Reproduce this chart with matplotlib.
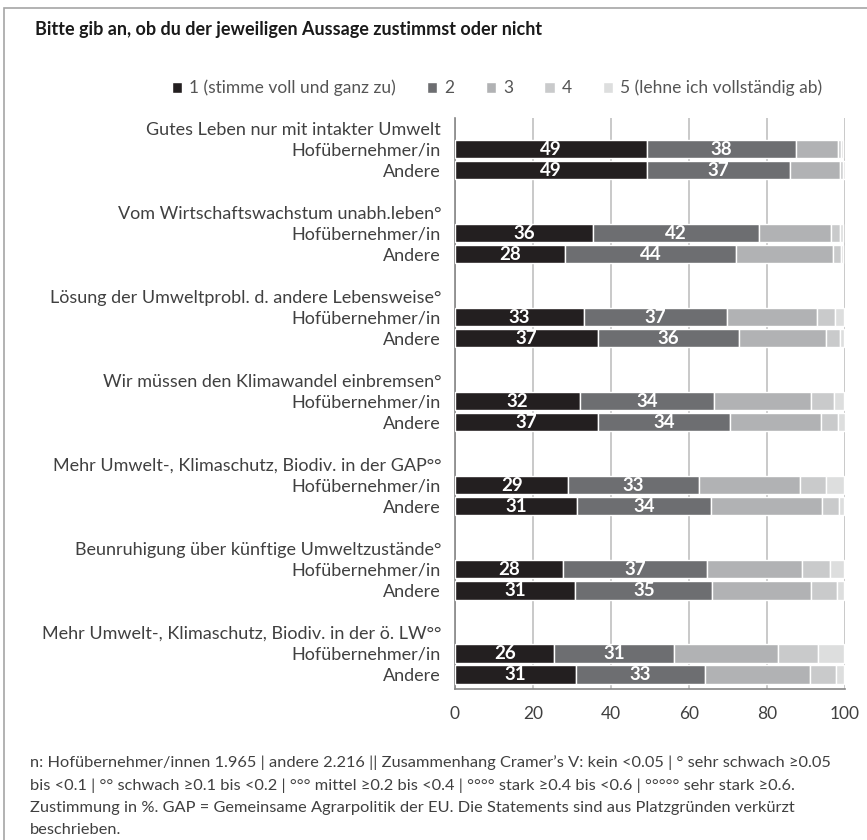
import matplotlib.pyplot as plt
from matplotlib.patches import Rectangle
import numpy as np

# statements (group titles) and the two respondent groups
statements = [
    "Gutes Leben nur mit intakter Umwelt",
    "Vom Wirtschaftswachstum unabh.leben°",
    "Lösung der Umweltprobl. d. andere Lebensweise°",
    "Wir müssen den Klimawandel einbremsen°",
    "Mehr Umwelt-, Klimaschutz, Biodiv. in der GAP°°",
    "Beunruhigung über künftige Umweltzustände°",
    "Mehr Umwelt-, Klimaschutz, Biodiv. in der ö. LW°°",
]
groups = ["Hofübernehmer/in", "Andere"]

legend_names = ["1 (stimme voll und ganz zu)", "2", "3", "4",
                "5 (lehne ich vollständig ab)"]
colors = ["#231f20", "#6d6e71", "#b1b2b4", "#c9cacb", "#dddede"]

# share in % per answer level, rows: statement x (Hof, Andere)
level1 = [49.2, 49.2, 35.5, 28.3, 33.0, 36.6, 32.1, 36.6, 29.1, 31.2, 27.6, 30.8, 25.5, 30.9]
level2 = [38.3, 36.6, 42.4, 43.8, 36.7, 36.1, 34.4, 34.0, 33.4, 34.4, 37.0, 35.2, 30.6, 33.3]
level3 = [10.6, 12.8, 18.4, 24.7, 23.1, 22.3, 24.7, 23.2, 26.0, 28.4, 24.4, 25.3, 26.7, 26.7]
level4 = [0.9, 0.9, 2.5, 2.2, 4.7, 3.6, 6.0, 4.4, 6.6, 4.5, 7.2, 6.7, 10.4, 6.7]
level5 = [0.6, 0.4, 0.7, 0.6, 2.3, 1.1, 2.6, 1.7, 4.7, 1.3, 3.6, 1.7, 6.6, 2.2]

title = "Bitte gib an, ob du der jeweiligen Aussage zustimmst oder nicht"
footnote_lines = [
    "n: Hofübernehmer/innen 1.965 | andere 2.216 || Zusammenhang Cramer’s V: kein <0.05 | ° sehr schwach ≥0.05",
    "bis <0.1 | °° schwach ≥0.1 bis <0.2 | °°° mittel ≥0.2 bis <0.4 | °°°° stark ≥0.4 bis <0.6 | °°°°° sehr stark ≥0.6.",
    "Zustimmung in %. GAP = Gemeinsame Agrarpolitik der EU. Die Statements sind aus Platzgründen verkürzt",
    "beschrieben.",
]

plt.rcParams['font.family'] = ['Lato', 'DejaVu Sans']
text_color = "#404040"

W, H = 867, 840
fig = plt.figure(figsize=(W / 100, H / 100), dpi=100)

# outer frame (open to the right and bottom)
fig.add_artist(Rectangle((4 / W, -0.1), 1.2, (H - 8) / H + 0.1, transform=fig.transFigure,
                         fill=False, edgecolor="#a6a6a6", linewidth=1.2))

ax = fig.add_axes([455 / W, (H - 689) / H, 390 / W, (689 - 118) / H])

# positions: 4 slots per statement -> title, Hof, Andere, gap
bar_y = []
tick_pos, tick_lab = [], []
for g, st in enumerate(statements):
    tick_pos.append(g * 4)
    tick_lab.append(st)
    for k, grp in enumerate(groups):
        bar_y.append(g * 4 + 1 + k)
        tick_pos.append(g * 4 + 1 + k)
        tick_lab.append(grp)
bar_y = np.array(bar_y)

levels = [level1, level2, level3, level4, level5]
left = np.zeros(len(bar_y))
handles = []
for i, vals in enumerate(levels):
    vals = np.array(vals)
    bars = ax.barh(bar_y, vals, left=left, height=0.88, color=colors[i],
                   edgecolor="white", linewidth=1.0, label=legend_names[i], zorder=3)
    handles.append(bars)
    if i < 2:
        for y, l, v in zip(bar_y, left, vals):
            ax.text(l + v / 2, y + 0.03, f"{v:.0f}", color="white", fontsize=13.5,
                    fontweight="bold", ha="center", va="center", zorder=4)
    left = left + vals

ax.set_xlim(0, 100)
ax.set_ylim(26.7, -0.48)
ax.set_xticks(np.arange(0, 101, 20))
ax.set_yticks(tick_pos)
ax.set_yticklabels(tick_lab)
ax.tick_params(axis="y", length=0, pad=10, labelsize=13, labelcolor=text_color)
ax.tick_params(axis="x", length=0, pad=12, labelsize=12.5, labelcolor=text_color)
ax.grid(axis="x", color="#c0c0c0", linewidth=1.2, zorder=0)
ax.set_axisbelow(True)
for side in ["top", "right"]:
    ax.spines[side].set_visible(False)
ax.spines["left"].set_color("#868686")
ax.spines["bottom"].set_color("#868686")
ax.spines["left"].set_linewidth(1.2)
ax.spines["bottom"].set_linewidth(1.2)

fig.text(35 / W, 1 - 30 / H, title, fontsize=13, fontweight="bold", color="#1a1a1a",
         ha="left", va="center")

fig.legend(handles=handles, labels=legend_names, loc="center", ncol=5,
           bbox_to_anchor=(497 / W, 1 - 88 / H), frameon=False, fontsize=12.5,
           labelcolor="#555555", handlelength=0.6, handleheight=0.6,
           handletextpad=0.4, columnspacing=1.8)

# footnote, one text per line
for n, line in enumerate(footnote_lines):
    fig.text(30 / W, 1 - (763 + n * 22.5) / H, line, fontsize=11.8, color=text_color,
             ha="left", va="center")

fig.savefig("out.png", dpi=100)
